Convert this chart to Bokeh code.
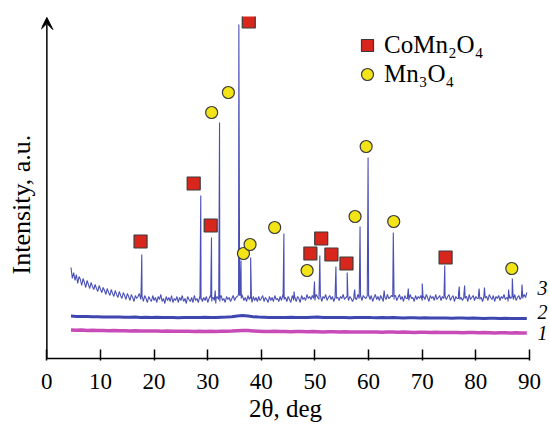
import numpy as np
from bokeh.plotting import figure
from bokeh.models import FixedTicker, Arrow, VeeHead, Legend, LegendItem, LinearAxis, Title
from bokeh.embed import file_html
from bokeh.resources import INLINE

# ---------------- data ----------------
# 2-theta grid start/step for the background of pattern 3
GRID3_START = 4.5
GRID3_STEP = 0.25
# background (noise) of pattern 3, a.u., 4.5 ... 89.5 deg
curve3_background = [
    91, 80, 86, 78, 84, 75, 82, 79, 73, 80, 76, 71, 78, 74, 70, 76, 72, 69, 74, 70,
    67, 73, 69, 66, 71, 68, 64, 70, 66, 63, 69, 65, 62, 68, 64, 61, 67, 63, 60, 66,
    63, 59, 65, 62, 58, 64, 61, 57, 63, 60, 62, 65, 59, 62, 57, 63, 60, 56, 62, 59,
    57, 63, 58, 61, 56, 62, 59, 64, 57, 60, 55, 62, 58, 61, 57, 63, 56, 60, 58, 62,
    56, 61, 58, 63, 57, 60, 55, 62, 59, 57, 61, 56, 63, 58, 60, 56, 62, 59, 57, 61,
    58, 62, 56, 60, 63, 57, 61, 58, 55, 62, 59, 57, 63, 58, 60, 56, 62, 59, 61, 57,
    60, 63, 58, 61, 62, 65, 63, 60, 62, 58, 61, 57, 63, 59, 60, 56, 62, 58, 61, 57,
    62, 58, 60, 63, 57, 61, 59, 56, 62, 58, 61, 57, 63, 59, 60, 57, 62, 58, 64, 59,
    61, 57, 62, 59, 56, 63, 58, 61, 57, 62, 60, 56, 63, 59, 61, 58, 64, 60, 62, 59,
    63, 60, 58, 64, 61, 59, 63, 57, 62, 60, 64, 58, 61, 63, 59, 62, 57, 63, 60, 61,
    58, 62, 60, 64, 59, 61, 63, 58, 62, 60, 57, 63, 61, 59, 64, 60, 62, 58, 63, 61,
    60, 64, 62, 59, 63, 57, 61, 64, 59, 62, 58, 63, 60, 57, 62, 59, 64, 60, 61, 63,
    62, 59, 63, 58, 61, 64, 59, 62, 57, 63, 60, 62, 58, 64, 60, 61, 57, 63, 59, 62,
    60, 63, 58, 62, 59, 64, 61, 57, 63, 60, 62, 58, 64, 59, 61, 63, 58, 62, 60, 63,
    59, 62, 64, 58, 61, 63, 57, 62, 60, 64, 59, 61, 58, 63, 60, 62, 57, 64, 59, 61,
    63, 58, 62, 60, 64, 59, 61, 57, 63, 60, 62, 58, 64, 61, 59, 63, 57, 62, 60, 63,
    58, 62, 60, 64, 59, 61, 57, 63, 60, 62, 59, 64, 58, 61, 63, 59, 62, 60, 64, 61,
    66,
]
# diffraction peaks of pattern 3: position (deg), top and foot (a.u.)
peak_pos = [17.7, 28.7, 30.7, 31.4, 32.2, 35.8, 36.2, 38.0, 44.2, 46.1, 49.9, 50.9,
            53.9, 56.0, 57.4, 58.4, 59.9, 62.9, 64.6, 67.4, 70.0, 74.2, 76.9, 77.9,
            80.6, 81.6, 86.1, 86.8, 88.6]
peak_top = [104, 163, 121, 68, 236, 334, 98, 101, 125, 67, 77, 103,
            92, 86, 69, 132, 201, 68, 126, 70, 75, 93, 72, 73,
            70, 71, 69, 80, 74]
peak_foot = [61, 60, 61, 60, 62, 63, 64, 61, 61, 60, 61, 62,
             61, 61, 60, 62, 63, 61, 62, 60, 61, 61, 60, 61,
             60, 61, 60, 61, 61]

# patterns 1 and 2 (1-degree grid)
GRID12_START = 4.5
GRID12_STEP = 1.0
curve2_values = [
    42.4, 42.1, 41.9, 42.0, 41.7, 41.8, 41.5, 41.6, 41.4, 41.5, 41.3,
    41.2, 41.4, 41.1, 41.2, 41.0, 41.2, 40.9, 41.1, 41.0, 40.8, 41.0, 41.1, 40.9, 41.0,
    41.2, 41.0, 41.1, 41.3, 41.4, 41.7,
    42.5, 43.0, 42.4, 41.7, 41.4,
    41.2, 41.0, 41.1, 40.9, 41.0, 41.2, 41.1, 40.9, 41.0, 41.2, 41.4, 41.1, 41.0, 40.9,
    41.1, 41.0, 40.8, 41.0, 40.9, 41.1,
    40.9, 40.8, 41.0, 40.7, 40.9, 40.8, 40.6, 40.8, 40.7, 40.5, 40.7, 40.6, 40.4, 40.6,
    40.5, 40.3, 40.5, 40.4, 40.2, 40.4, 40.3, 40.1, 40.3, 40.2, 40.0, 40.2, 40.1, 39.9,
    40.1, 40.0,
]
curve1_values = [
    28.6, 28.3, 28.4, 28.1, 28.2, 27.9, 28.0, 27.8, 27.9, 27.7, 27.8,
    27.6, 27.7, 27.5, 27.6, 27.4, 27.5, 27.3, 27.4, 27.2, 27.3, 27.2, 27.3, 27.1, 27.2,
    27.0, 27.2, 27.1, 27.2, 27.3, 27.5,
    27.8, 28.0, 27.9, 27.5, 27.3,
    27.1, 27.0, 27.2, 26.9, 27.0, 26.8, 27.0, 26.9, 26.7, 26.9, 26.8, 26.6, 26.8, 26.7,
    26.5, 26.7, 26.6, 26.4, 26.6, 26.5,
    26.4, 26.6, 26.3, 26.5, 26.4, 26.2, 26.4, 26.3, 26.1, 26.3, 26.2, 26.0, 26.2, 26.1,
    25.9, 26.1, 26.0, 25.8, 26.0, 25.9, 25.7, 25.9, 25.8, 25.6, 25.8, 25.7, 25.5, 25.7,
    25.6, 25.5,
]

# phase markers
comn2o4_x = [17.47, 27.38, 30.55, 37.65, 49.14, 51.16, 53.06, 55.87, 74.35]
comn2o4_y = [117, 175, 133, 337, 105, 120, 104, 95, 101]
mn3o4_x = [30.73, 33.85, 36.66, 37.89, 42.48, 48.53, 57.47, 59.54, 64.68, 86.7]
mn3o4_y = [246, 266, 105, 114, 131, 88, 142, 212, 137, 90]

legend_labels = ["CoMn\u2082O\u2084", "Mn\u2083O\u2084"]
curve_labels = ["3", "2", "1"]
curve_label_y = [71, 47, 26]
x_ticks = [0, 10, 20, 30, 40, 50, 60, 70, 80, 90]
y_top = 341

# ---------------- build traces ----------------
bx = GRID3_START + GRID3_STEP * np.arange(len(curve3_background))
pts = list(zip(bx.tolist(), curve3_background))
for pos, top, foot in zip(peak_pos, peak_top, peak_foot):
    pts += [(pos - 0.15, foot), (pos, top), (pos + 0.15, foot)]
pts.sort()
x3 = [q[0] for q in pts]
y3 = [q[1] for q in pts]
x12 = (GRID12_START + GRID12_STEP * np.arange(len(curve2_values))).tolist()

FONT = "Liberation Serif"

p = figure(width=550, height=428, output_backend="svg", toolbar_location=None,
           x_range=(-1, 90), y_range=(-2, 342),
           min_border_left=41, min_border_right=14, min_border_top=16, min_border_bottom=68)
p.xgrid.visible = False
p.ygrid.visible = False
p.outline_line_color = None
p.background_fill_color = "white"

# x axis: ticks and labels from Bokeh, axis line drawn from 0 to 90
ax = p.xaxis[0]
ax.ticker = FixedTicker(ticks=x_ticks)
ax.major_tick_in = 11
ax.major_tick_out = 0
ax.minor_tick_line_color = None
ax.axis_line_color = None
ax.major_tick_line_width = 1.5
ax.major_tick_line_color = "black"
ax.major_label_text_font = FONT
ax.major_label_text_font_size = "23px"
ax.major_label_text_color = "black"
ax.major_label_standoff = 13
ax.axis_label = "2\u03b8, deg"
ax.axis_label_text_font = FONT
ax.axis_label_text_font_size = "25px"
ax.axis_label_text_font_style = "normal"
ax.axis_label_text_color = "black"
ax.axis_label_standoff = 3
p.segment(x0=[x_ticks[0]], y0=[0], x1=[x_ticks[-1]], y1=[0], line_color="black", line_width=1.5)

# y axis: no Bokeh axis; arrow drawn at x = 0 and the title on the left side
p.yaxis.visible = False
p.add_layout(Arrow(end=VeeHead(size=12, fill_color="black", line_color="black"),
                   x_start=x_ticks[0], y_start=0, x_end=x_ticks[0], y_end=y_top,
                   line_width=1.5, line_color="black"))
p.add_layout(Title(text="Intensity, a.u.", align="left", vertical_align="middle", offset=86,
                   standoff=9, text_font=FONT, text_font_size="26px",
                   text_font_style="normal", text_color="black"), "left")

# curve numbers on the right
ar = LinearAxis(ticker=FixedTicker(ticks=curve_label_y),
                major_label_overrides={v: t for v, t in zip(curve_label_y, curve_labels)},
                axis_line_color=None, major_tick_line_color=None, minor_tick_line_color=None,
                major_label_standoff=2, major_label_text_font=FONT,
                major_label_text_font_size="20px", major_label_text_font_style="italic",
                major_label_text_color="black")
p.add_layout(ar, "right")

# patterns
p.line(x12, curve1_values, line_color="#c84cb8", line_width=3.5)
p.line(x12, curve2_values, line_color="#3e47b0", line_width=3)
p.line(x3, y3, line_color="#4a4fb5", line_width=1.1)

sq = p.scatter(comn2o4_x, comn2o4_y, marker="square", size=13,
               fill_color="#d9261c", line_color="#3a3a3a", line_width=1.2)
ci = p.scatter(mn3o4_x, mn3o4_y, marker="circle", size=12,
               fill_color="#f3e418", line_color="#3a3a3a", line_width=1.2)

common = dict(orientation="vertical", glyph_width=30, glyph_height=30, label_height=30,
              padding=0, margin=0, label_standoff=2, label_text_font=FONT,
              label_text_font_size="25px", label_text_color="black",
              background_fill_alpha=0, border_line_alpha=0)
p.add_layout(Legend(items=[LegendItem(label=legend_labels[0], renderers=[sq])],
                    location=(311, 300), **common))
p.add_layout(Legend(items=[LegendItem(label=legend_labels[1], renderers=[ci])],
                    location=(311, 271), **common))

open("out.html", "w").write(file_html(p, INLINE))
